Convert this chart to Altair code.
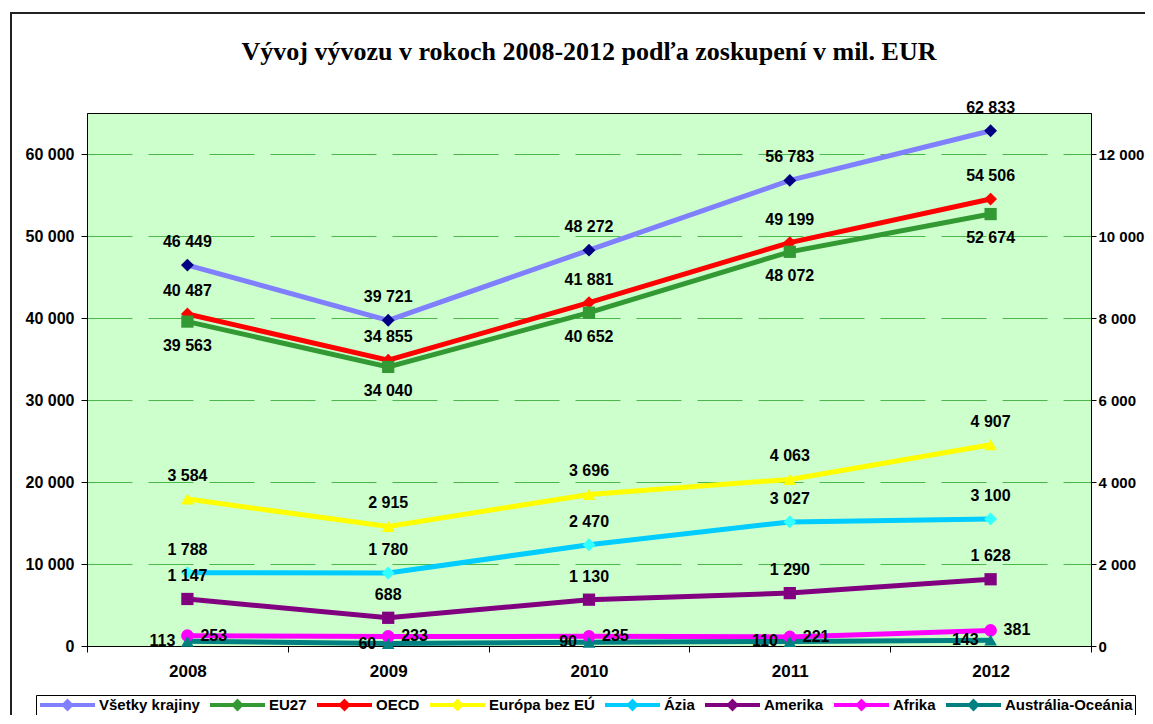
import altair as alt
import pandas as pd

# ---------------- data ----------------
years = ["2008", "2009", "2010", "2011", "2012"]

vsetky = [46449, 39721, 48272, 56783, 62833]
eu27 = [39563, 34040, 40652, 48072, 52674]
oecd = [40487, 34855, 41881, 49199, 54506]
europa = [3584, 2915, 3696, 4063, 4907]
azia = [1788, 1780, 2470, 3027, 3100]
amerika = [1147, 688, 1130, 1290, 1628]
afrika = [253, 233, 235, 221, 381]
australia = [113, 60, 90, 110, 143]

left_names = ["Všetky krajiny", "EU27", "OECD"]
left_values = [vsetky, eu27, oecd]
right_names = ["Európa bez EÚ", "Ázia", "Amerika", "Afrika", "Austrália-Oceánia"]
right_values = [europa, azia, amerika, afrika, australia]

title_text = "Vývoj vývozu v rokoch 2008-2012 podľa zoskupení v mil. EUR"

# ---------------- styles ----------------
series_order = left_names + right_names
line_colors = ["#8080FF", "#339933", "#FF0000", "#FFFF00", "#00CCFF", "#800080", "#FF00FF", "#008080"]
marker_colors = ["#000080", "#339933", "#FF0000", "#FFFF00", "#33FFFF", "#800080", "#FF00FF", "#008080"]
marker_shapes = ["diamond", "square", "diamond", "triangle-up", "diamond", "square", "circle", "triangle-up"]
label_pos = {
    "Všetky krajiny": "above", "EU27": "below", "OECD": "above",
    "Európa bez EÚ": "above", "Ázia": "above", "Amerika": "above",
    "Afrika": "right", "Austrália-Oceánia": "left",
}

FONT = "Liberation Sans"
W, H = 1004, 533


def make_df(names, values):
    rows = []
    for name, vals in zip(names, values):
        for yr, v in zip(years, vals):
            rows.append({"year": yr, "series": name, "value": v,
                         "label": f"{v:,}".replace(",", " "),
                         "pos": label_pos[name],
                         "shape": marker_shapes[series_order.index(name)]})
    return pd.DataFrame(rows)


df_left = make_df(left_names, left_values)
df_right = make_df(right_names, right_values)

# legend symbol: a line segment with a small marker in its middle
legend_symbol = "M-1,0L1,0M0,-0.13L0.13,0L0,0.13L-0.13,0Z"

legend = alt.Legend(
    orient="none", legendX=-51, legendY=582, direction="horizontal", title=None,
    labelFont=FONT, labelFontSize=15, labelFontWeight="bold", labelColor="black",
    symbolType=legend_symbol, symbolSize=3025, clipHeight=16,
    symbolStrokeWidth=4, symbolOpacity=1, labelOffset=2,
    columnPadding=8, padding=2, strokeColor="black", fillColor="white",
)

stroke_scale = alt.Scale(domain=series_order, range=line_colors)
fill_scale = alt.Scale(domain=series_order, range=marker_colors)

x_enc = alt.X(
    "year:O", sort=years,
    scale=alt.Scale(type="band", paddingInner=0, paddingOuter=0),
    axis=alt.Axis(title=None, labelAngle=0, tickBand="extent", labelFont=FONT,
                  labelFontSize=17, labelFontWeight="bold", labelColor="black",
                  labelPadding=11, tickSize=6, tickColor="black", domainColor="black",
                  grid=False),
)

label_expr = "replace(format(datum.value, ','), ',', ' ')"

y_left = alt.Y(
    "value:Q",
    scale=alt.Scale(domain=[0, 65000], nice=False, zero=True),
    axis=alt.Axis(title=None, orient="left", values=list(range(0, 60001, 10000)),
                  labelExpr=label_expr, labelFont=FONT, labelFontSize=16,
                  labelFontWeight="bold", labelColor="black", labelPadding=7,
                  tickSize=6, tickColor="black", domainColor="black",
                  grid=True, gridColor="#4CB84C", gridDash=[45, 16], gridWidth=1),
)
y_right = alt.Y(
    "value:Q",
    scale=alt.Scale(domain=[0, 13000], nice=False, zero=True),
    axis=alt.Axis(title=None, orient="right", values=list(range(0, 12001, 2000)),
                  labelExpr=label_expr, labelFont=FONT, labelFontSize=15,
                  labelFontWeight="bold", labelColor="black", labelPadding=2,
                  tickSize=5, tickColor="black", domainColor="black", grid=False),
)

marker_sizes = {"diamond": 165, "square": 150, "circle": 160, "triangle-up": 160}


def series_layer(df, y_enc):
    base = alt.Chart(df)
    line = base.mark_line(strokeWidth=5).encode(
        x=x_enc, y=y_enc,
        stroke=alt.Stroke("series:N", scale=stroke_scale, legend=legend),
        detail="series:N",
    )
    layers = [line]
    for shp in sorted(set(df["shape"])):
        layers.append(
            base.transform_filter(alt.datum.shape == shp).mark_point(
                filled=True, shape=shp, size=marker_sizes[shp], opacity=1
            ).encode(
                x=x_enc, y=y_enc,
                fill=alt.Fill("series:N", scale=fill_scale, legend=legend),
            )
        )
    offsets = {"above": dict(dy=-23, align="center"),
               "below": dict(dy=24, align="center"),
               "right": dict(dx=13, align="left"),
               "left": dict(dx=-12, align="right")}
    for pos in sorted(set(df["pos"])):
        layers.append(
            base.transform_filter(alt.datum.pos == pos).mark_text(
                font=FONT, fontSize=16, fontWeight="bold", color="black",
                baseline="middle", **offsets[pos]
            ).encode(x=x_enc, y=y_enc, text="label:N")
        )
    return alt.layer(*layers)


left = series_layer(df_left, y_left)
right = series_layer(df_right, y_right)

one = pd.DataFrame({"t": [title_text]})
border = alt.Chart(one).mark_rect(fill=None, stroke="#222222", strokeWidth=2).encode(
    x=alt.value(-76), x2=alt.value(1100), y=alt.value(-100), y2=alt.value(700)
)
title = alt.Chart(one).mark_text(
    font="Liberation Serif", fontSize=26, fontWeight="bold", color="black",
    align="center", baseline="alphabetic"
).encode(x=alt.value(W / 2), y=alt.value(-53), text="t:N")

chart = alt.layer(border, title, left, right).resolve_scale(
    y="independent"
).properties(
    width=W, height=H,
    autosize=alt.AutoSizeParams(type="none"),
    padding={"left": 79, "top": 105, "right": 54, "bottom": 69},
).configure_view(fill="#CCFFCC", stroke="black", strokeWidth=1)

chart.save("out.html", embed_options={"renderer": "svg", "actions": False})
